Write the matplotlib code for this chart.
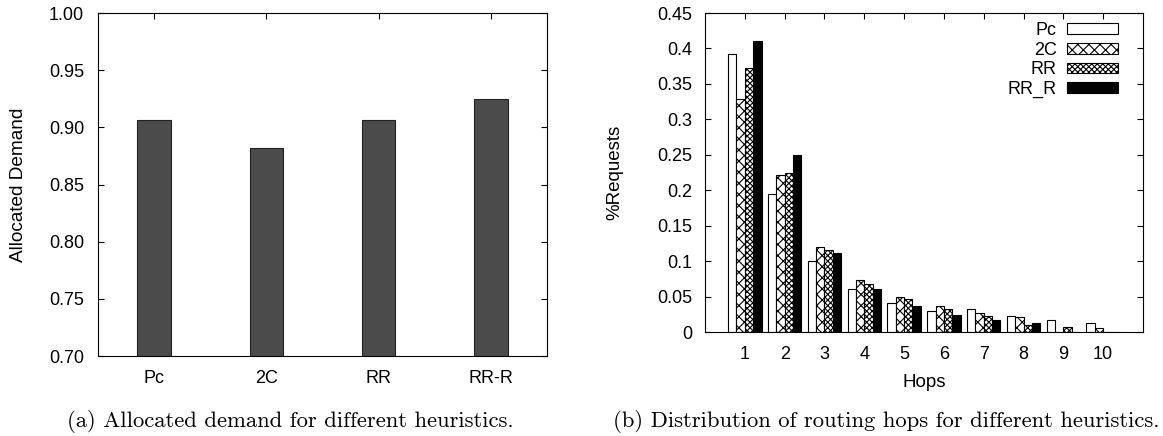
import numpy as np
import matplotlib.pyplot as plt

plt.rcParams['font.family'] = ['Liberation Sans', 'DejaVu Sans']
plt.rcParams['hatch.linewidth'] = 0.8

# (a) allocated demand
heuristics = ['Pc', '2C', 'RR', 'RR-R']
allocated = [0.906, 0.882, 0.906, 0.925]

# (b) routing hops distribution
hops = np.arange(1, 11)
pc = [0.392, 0.194, 0.100, 0.060, 0.041, 0.030, 0.033, 0.022, 0.017, 0.013]
c2 = [0.328, 0.221, 0.120, 0.074, 0.050, 0.036, 0.027, 0.021, 0.0, 0.006]
rr = [0.372, 0.224, 0.116, 0.068, 0.046, 0.033, 0.022, 0.010, 0.007, 0.0]
rr_r = [0.410, 0.249, 0.112, 0.060, 0.037, 0.024, 0.017, 0.013, 0.0, 0.0]
series = [('Pc', pc), ('2C', c2), ('RR', rr), ('RR_R', rr_r)]

W, H = 1163, 436
fig = plt.figure(figsize=(W / 100, H / 100), dpi=100)

# left plot
ax1 = fig.add_axes([98 / W, 1 - 356 / H, 449 / W, 343 / H])
x = np.arange(len(heuristics))
ax1.bar(x, allocated, width=0.3, color='#4b4b4b', edgecolor='#222222', linewidth=0.8)
ax1.set_xlim(-0.5, 3.5)
ax1.set_ylim(0.70, 1.00)
ax1.set_yticks(np.arange(0.70, 1.001, 0.05))
ax1.set_yticklabels(['%.2f' % v for v in np.arange(0.70, 1.001, 0.05)])
ax1.set_xticks(x)
ax1.set_xticklabels(heuristics)
ax1.tick_params(direction='in', top=True, right=True, labelsize=13, length=4)
ax1.tick_params(axis='y', pad=10)
ax1.tick_params(axis='x', bottom=False, pad=10)
fig.text(19 / W, 1 - 185 / H, 'Allocated Demand', fontsize=13.7, rotation=90,
         ha='center', va='center')

# right plot
ax2 = fig.add_axes([705 / W, 1 - 332 / H, 438 / W, 319 / H])
bw = 0.21
styles = [
    dict(color='white', edgecolor='black', hatch=None),
    dict(color='white', edgecolor='black', hatch='xxx'),
    dict(color='white', edgecolor='black', hatch='xxxxxx'),
    dict(color='black', edgecolor='black', hatch=None),
]
for i, ((name, vals), st) in enumerate(zip(series, styles)):
    ax2.bar(hops + (i - 1.5) * bw, vals, width=bw, label=name, linewidth=0.8, **st)
ax2.set_xlim(0, 11)
ax2.set_ylim(0, 0.45)
yt = np.arange(0, 0.451, 0.05)
ax2.set_yticks(yt)
ax2.set_yticklabels(['%g' % round(v, 2) for v in yt])
ax2.set_xticks(hops)
ax2.tick_params(direction='in', top=True, right=True, labelsize=13, length=4)
ax2.tick_params(axis='y', pad=9)
ax2.tick_params(axis='x', bottom=False, pad=10)
fig.text(615 / W, 1 - 172 / H, '%Requests', fontsize=13.5, rotation=90,
         ha='center', va='center')
fig.text(924 / W, 1 - 382 / H, 'Hops', fontsize=13.5, ha='center', va='center')
leg = ax2.legend(loc='upper right', bbox_to_anchor=(1 - 16 / 438, 1),
                 markerfirst=False, frameon=False, fontsize=13,
                 handlelength=2.8, handleheight=0.55, labelspacing=0.15,
                 borderaxespad=0.3, borderpad=0.2, handletextpad=0.6)
for t in leg.get_texts():
    t.set_ha('right')

# captions
fig.text(290 / W, 1 - 421 / H, '(a) Allocated demand for different heuristics.',
         family='cmr10', fontsize=16.3, ha='center', va='center')
fig.text(886 / W, 1 - 421 / H, '(b) Distribution of routing hops for different heuristics.',
         family='cmr10', fontsize=16.3, ha='center', va='center')

fig.savefig('out.png', dpi=100)
